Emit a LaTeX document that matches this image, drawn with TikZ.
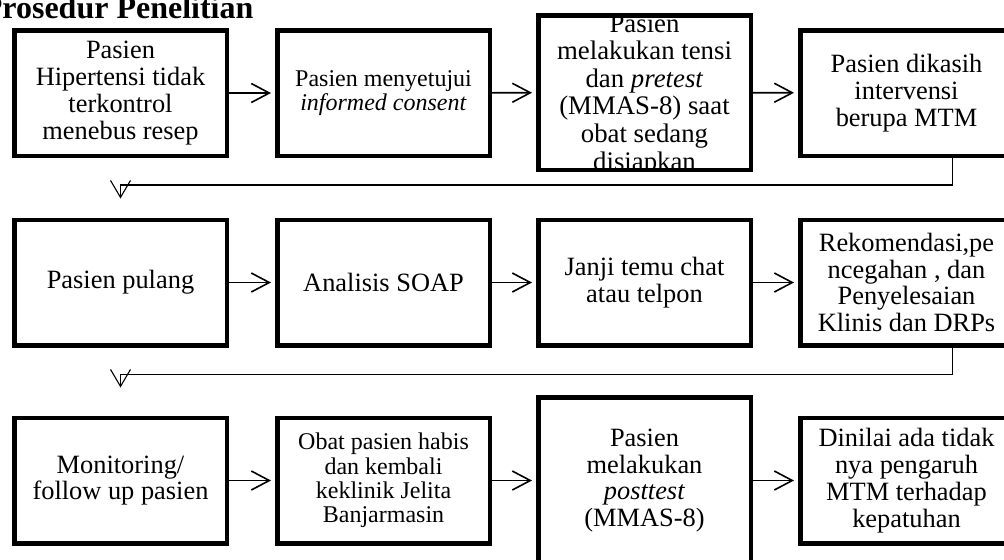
\documentclass[tikz,border=0pt]{standalone}
\usepackage{fontspec}
\setmainfont{Liberation Serif}
\usetikzlibrary{arrows.meta,positioning,calc}

\begin{document}
\begin{tikzpicture}[
  x=0.5pt, y=-0.5pt,
  box/.style={draw=black, line width=2.25pt, align=center, minimum width=106.25pt, minimum height=62.75pt, inner sep=0pt, font=\fontsize{13.2}{13.4}\selectfont},
  sml/.style={box, font=\fontsize{12}{12.2}\selectfont},
  tall/.style={box, minimum height=#1},
  arr/.style={-{Straight Barb[length=9pt,width=9.5pt]}, line width=0.8pt, shorten >=2pt},
  fb/.style={-{Straight Barb[length=8.5pt,width=10pt]}, line width=0.55pt},
  ttl/.style={font=\fontsize{16}{19}\selectfont\bfseries, inner sep=0pt},
  ]
\useasboundingbox (0,0) rectangle (1004,559);
\clip (0,0) rectangle (1004,559);
\node[ttl, anchor=base west] (title) at (-17.5,18.5) {Prosedur Penelitian};
% row 1: resep, consent, pretest, MTM
\node[box] (r1a) at (120.5,93) {Pasien\\Hipertensi tidak\\terkontrol\\menebus resep};
\node[sml] (r1b) at (383.5,93) {Pasien menyetujui\\\textit{informed consent}};
\node[tall=77.25pt, path picture={\node[align=center, font=\fontsize{13.4}{13.8}\selectfont] at ([yshift=-1.25pt]path picture bounding box.center) {Pasien\\melakukan tensi\\dan \textit{pretest}\\(MMAS-8) saat\\obat sedang\\disiapkan};}] (r1c) at (644.5,92.5) {};
\node[box] (r1d) at (906.5,93) {Pasien dikasih\\intervensi\\berupa MTM};
% row 2: pulang, SOAP, janji temu, rekomendasi
\node[box] (r2a) at (120.5,282.5) {Pasien pulang};
\node[box] (r2b) at (383.5,282.5) {Analisis SOAP};
\node[box] (r2c) at (644.5,282.5) {Janji temu chat\\atau telpon};
\node[box] (r2d) at (906.5,282.5) {Rekomendasi,pe\\ncegahan , dan\\Penyelesaian\\Klinis dan DRPs};
% row 3: follow up, kembali, posttest, penilaian
\node[box] (r3a) at (120.5,480.5) {Monitoring/\\follow up pasien};
\node[sml] (r3b) at (383.5,480.5) {Obat pasien habis\\dan kembali\\keklinik Jelita\\Banjarmasin};
\node[tall=83.25pt] (r3c) at (644.5,480.5) {Pasien\\melakukan\\\textit{posttest}\\(MMAS-8)};
\node[box] (r3d) at (906.5,480.5) {Dinilai ada tidak\\nya pengaruh\\MTM terhadap\\kepatuhan};
% arrows
\draw[arr] (r1a) -- (r1b);
\draw[arr] (r1b) -- (r1c);
\draw[arr] (r1c) -- (r1d);
\draw[arr] (r2a) -- (r2b);
\draw[arr] (r2b) -- (r2c);
\draw[arr] (r2c) -- (r2d);
\draw[arr] (r3a) -- (r3b);
\draw[arr] (r3b) -- (r3c);
\draw[arr] (r3c) -- (r3d);
% row to row
\draw[fb] ([xshift=23pt]r1d.south) -- ++(0,27) -| ([yshift=9.5pt]r2a.north);
\draw[fb] ([xshift=23pt]r2d.south) -- ++(0,27) -| ([yshift=14pt]r3a.north);
\end{tikzpicture}
\end{document}
